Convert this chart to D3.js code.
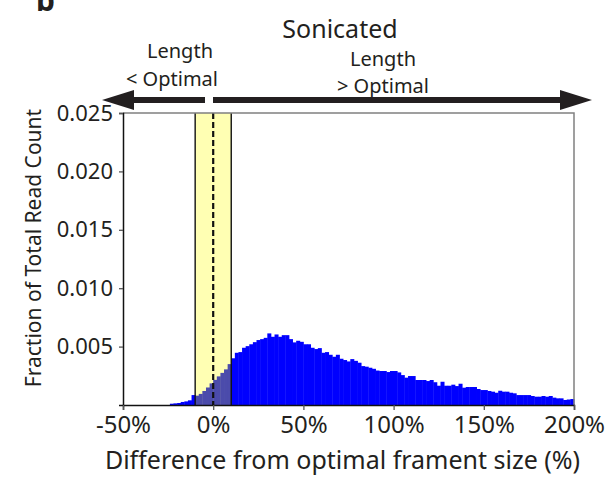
<!DOCTYPE html>
<html>
<head>
<meta charset="utf-8">
<script src="https://cdn.jsdelivr.net/npm/d3@7"></script>
<style>
  body { margin: 0; background: #fff; }
  svg { display: block; font-family: "Noto Sans", sans-serif; }
</style>
</head>
<body>
<div id="chart"></div>
<script>
// histogram: 2% bins, left edge of first bin at -24%
const binWidth = 2;
const firstBin = -24;
const fraction = [
  0.00011, 0.00014, 0.00017, 0.00026, 0.00031, 0.00040, 0.00085,            // -24 .. -12
  0.00080, 0.00095, 0.00120, 0.00150, 0.00185, 0.00215, 0.00245, 0.00275,   // -10 .. 4
  0.00305, 0.00350,                                                         // 6, 8
  0.00400, 0.00447, 0.00453, 0.00490, 0.00504, 0.00520, 0.00538, 0.00556,   // 10 .. 24
  0.00564, 0.00575, 0.00613, 0.00584, 0.00604, 0.00584, 0.00598, 0.00598,   // 26 .. 40
  0.00564, 0.00536, 0.00550, 0.00541, 0.00520, 0.00520, 0.00490, 0.00479,   // 42 .. 56
  0.00487, 0.00447, 0.00453, 0.00430, 0.00413, 0.00430, 0.00396, 0.00385,   // 58 .. 72
  0.00373, 0.00393, 0.00378, 0.00362, 0.00333, 0.00328, 0.00319, 0.00310,   // 74 .. 88
  0.00295, 0.00291, 0.00291, 0.00282, 0.00291, 0.00291, 0.00279, 0.00256,   // 90 .. 104
  0.00234, 0.00248, 0.00248, 0.00214, 0.00214, 0.00214, 0.00205, 0.00214,   // 106 .. 120
  0.00195, 0.00165, 0.00199, 0.00165, 0.00165, 0.00174, 0.00162, 0.00182,   // 122 .. 136
  0.00148, 0.00154, 0.00154, 0.00154, 0.00137, 0.00128, 0.00128, 0.00120,   // 138 .. 152
  0.00114, 0.00105, 0.00122, 0.00114, 0.00114, 0.00105, 0.00100, 0.00085,   // 154 .. 168
  0.00085, 0.00085, 0.00085, 0.00077, 0.00071, 0.00071, 0.00077, 0.00071,   // 170 .. 184
  0.00077, 0.00063, 0.00057, 0.00057, 0.00043, 0.00047, 0.00051             // 186 .. 198
];
const bins = fraction.map((v, i) => ({ x0: firstBin + i * binWidth, value: v }));

const optimalBand = [-10, 10];
const xTicks = [-50, 0, 50, 100, 150, 200];
const yTicks = [0.005, 0.010, 0.015, 0.020, 0.025];

const textColor = '#231f20',
    barColor = '#0000ff',
    bandBarColor = '#4b4bab',
    bandFill = '#ffffb3';

const width = 606, height = 477;
const margin = { top: 113, right: 32, bottom: 72, left: 123 };

const svg = d3.select('#chart').append('svg')
    .attr('width', width)
    .attr('height', height);

const x = d3.scaleLinear().domain([-50, 200]).range([margin.left, width - margin.right]);
const y = d3.scaleLinear().domain([0, 0.025]).range([height - margin.bottom, margin.top]);

// optimal band background
svg.append('rect')
    .attr('x', x(optimalBand[0]))
    .attr('y', y(0.025))
    .attr('width', x(optimalBand[1]) - x(optimalBand[0]))
    .attr('height', y(0) - y(0.025))
    .attr('fill', bandFill);

// bars
svg.append('g')
    .selectAll('rect')
    .data(bins)
    .enter()
    .append('rect')
    .attr('x', d => x(d.x0))
    .attr('y', d => y(d.value))
    .attr('width', d => x(d.x0 + binWidth) - x(d.x0) + 0.4)
    .attr('height', d => y(0) - y(d.value))
    .attr('fill', d => (d.x0 >= optimalBand[0] && d.x0 < optimalBand[1]) ? bandBarColor : barColor);

// band edges + dashed optimum
optimalBand.forEach(v => {
    svg.append('line')
        .attr('x1', x(v)).attr('x2', x(v))
        .attr('y1', y(0.025)).attr('y2', y(0))
        .attr('stroke', '#111').attr('stroke-width', 1.4);
});
svg.append('line')
    .attr('x1', x(0)).attr('x2', x(0))
    .attr('y1', y(0.025)).attr('y2', y(0))
    .attr('stroke', '#111').attr('stroke-width', 2.2)
    .attr('stroke-dasharray', '6,3');

// top / right frame
svg.append('path')
    .attr('d', `M${x(-50)},${y(0.025)}H${x(200)}V${y(0)}`)
    .attr('fill', 'none')
    .attr('stroke', '#808080')
    .attr('stroke-width', 1.5);

// axes
const yAxis = svg.append('g')
    .attr('transform', `translate(${x(-50)},0)`)
    .call(d3.axisLeft(y).tickValues(yTicks).tickFormat(d3.format('.3f')).tickSize(4).tickPadding(6));
const xAxis = svg.append('g')
    .attr('transform', `translate(0,${y(0)})`)
    .call(d3.axisBottom(x).tickValues(xTicks).tickFormat(d => d + '%').tickSize(5).tickPadding(6));

[yAxis, xAxis].forEach(a => {
    a.select('.domain').attr('stroke', '#111').attr('stroke-width', 1.5);
    a.selectAll('.tick line').attr('stroke', '#555').attr('stroke-width', 1.3);
    a.selectAll('text').attr('fill', textColor).style('font-family', '"Noto Sans", sans-serif');
});
yAxis.selectAll('text').attr('font-size', 22);
xAxis.selectAll('text').attr('font-size', 24);

// axis titles
svg.append('text')
    .attr('x', (x(-50) + x(200)) / 2 - 6)
    .attr('y', 469)
    .attr('text-anchor', 'middle')
    .attr('font-size', 25)
    .attr('fill', textColor)
    .text('Difference from optimal frament size (%)');

svg.append('text')
    .attr('transform', `translate(41,${(y(0) + y(0.025)) / 2 - 11}) rotate(-90)`)
    .attr('text-anchor', 'middle')
    .attr('font-size', 21)
    .attr('fill', textColor)
    .text('Fraction of Total Read Count');

// panel letter (cut off at the top)
svg.append('text')
    .attr('x', 36).attr('y', 11)
    .attr('font-size', 30)
    .attr('font-weight', 'bold')
    .attr('fill', textColor)
    .text('b');

// title and annotations
svg.append('text')
    .attr('x', 340).attr('y', 38)
    .attr('text-anchor', 'middle')
    .attr('font-size', 25)
    .attr('fill', textColor)
    .text('Sonicated');

const notes = [
    { text: 'Length', x: 180, y: 58 },
    { text: '< Optimal', x: 172, y: 86 },
    { text: 'Length', x: 383, y: 66 },
    { text: '> Optimal', x: 383, y: 93 }
];
svg.append('g')
    .selectAll('text')
    .data(notes)
    .enter()
    .append('text')
    .attr('x', d => d.x).attr('y', d => d.y)
    .attr('text-anchor', 'middle')
    .attr('font-size', 20)
    .attr('fill', textColor)
    .text(d => d.text);

// direction arrows
const arrowY = 100;
function arrow(from, to) {
    const dir = Math.sign(to - from);
    const headLen = 32, headHalf = 10, shaft = 3;
    const base = to - dir * headLen;
    const p = d3.path();
    p.moveTo(from, arrowY - shaft);
    p.lineTo(base, arrowY - shaft);
    p.lineTo(base, arrowY - headHalf);
    p.lineTo(to, arrowY);
    p.lineTo(base, arrowY + headHalf);
    p.lineTo(base, arrowY + shaft);
    p.lineTo(from, arrowY + shaft);
    p.closePath();
    svg.append('path').attr('d', p.toString()).attr('fill', textColor);
}
arrow(205, 102);
arrow(213, 592);
</script>
</body>
</html>
